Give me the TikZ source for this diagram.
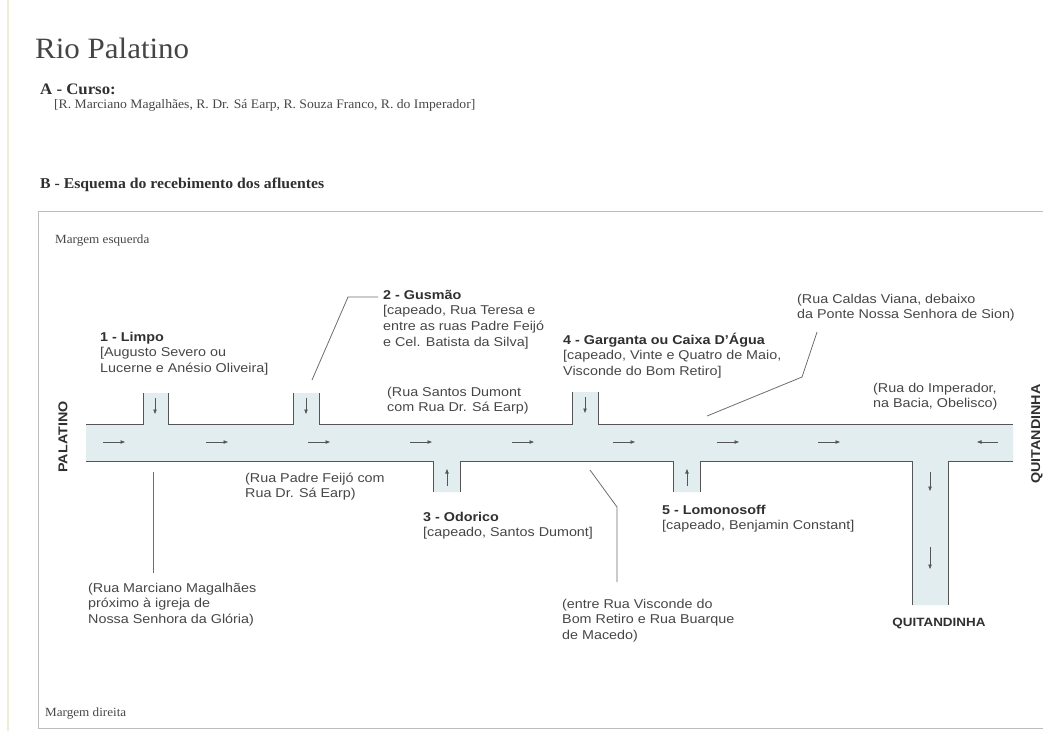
\documentclass[tikz,border=0pt]{standalone}
\usepackage{fontspec}
\setmainfont{Liberation Serif}[FakeStretch=1.05]
\setsansfont{Liberation Sans}[FakeStretch=1.12]
\usetikzlibrary{arrows.meta}
\definecolor{txtc}{HTML}{474747}
\definecolor{boldc}{HTML}{303030}
\definecolor{linec}{HTML}{555555}
\definecolor{waterc}{HTML}{E2EDF0}
\definecolor{framec}{HTML}{BDBDBD}
\definecolor{edgec}{HTML}{EFECD6}
\newcommand{\topstrut}{\rule{0pt}{12pt}}
\begin{document}
\begin{tikzpicture}[x=1pt,y=-1pt,
  lab/.style={anchor=north west, inner sep=0pt, align=left, text=txtc,
    font=\sffamily\fontsize{12.8}{15.7}\selectfont},
  flow/.style={-{Triangle[length=4.5pt,width=3.4pt]}, line width=0.7pt, draw=linec},
  bank/.style={draw=linec, line width=1pt},
  leader/.style={draw=linec!85, line width=0.8pt},
  serif/.style={anchor=base west, inner sep=0pt, text=boldc},
  vlab/.style={inner sep=0pt, text=boldc, font=\sffamily\bfseries\fontsize{12.8}{15}\selectfont}]
\useasboundingbox (0,0) rectangle (1043,731);
\fill[white] (0,0) rectangle (1043,731);
% page edge and frame
\draw[edgec, line width=1.5pt] (8,0) -- (8,731);
\draw[framec, line width=0.9pt] (1043,211) -- (38,211) -- (38,728) -- (1043,728);

% header
\node[serif, font=\rmfamily\fontsize{29.5}{32}\selectfont, text=boldc!90] (title) at (35,58) {Rio Palatino};
\node[serif, font=\rmfamily\bfseries\fontsize{16}{18}\selectfont] (curso) at (40,94) {A - Curso:};
\node[serif, font=\rmfamily\fontsize{13}{15}\selectfont, text=txtc] (cursotxt) at (54,108) {[R. Marciano Magalhães, R. Dr. Sá Earp, R. Souza Franco, R. do Imperador]};
\node[serif, font=\rmfamily\bfseries\fontsize{15}{17}\selectfont] (esquema) at (40,188) {B - Esquema do recebimento dos afluentes};
\node[serif, font=\rmfamily\fontsize{12.5}{14}\selectfont, text=txtc] (mesq) at (55,243) {Margem esquerda};
\node[serif, font=\rmfamily\fontsize{12.5}{14}\selectfont, text=txtc] (mdir) at (45,716) {Margem direita};

% river water
\fill[waterc] (86,424) -- (143,424) -- (143,393) -- (168,393) -- (168,424) -- (293,424) -- (293,393) -- (319,393) -- (319,424)
  -- (572,424) -- (572,392) -- (598,392) -- (598,424) -- (1013,424) -- (1013,461) -- (948,461) -- (948,605) -- (912,605)
  -- (912,461) -- (700,461) -- (700,492) -- (673,492) -- (673,461) -- (460,461) -- (460,492) -- (433,492) -- (433,461)
  -- (86,461) -- cycle;
% banks
\draw[bank] (86,424) -- (143,424) -- (143,393) (168,393) -- (168,424) -- (293,424) -- (293,393)
  (319,393) -- (319,424) -- (572,424) -- (572,392) (598,392) -- (598,424) -- (1013,424);
\draw[bank] (86,461) -- (433,461) -- (433,492) (460,492) -- (460,461) -- (673,461) -- (673,492)
  (700,492) -- (700,461) -- (912,461) -- (912,605) (948,605) -- (948,461) -- (1013,461);

% flow arrows
\foreach \xa in {103,206,308,410,512,613,717,818}
  \draw[flow] (\xa,442) -- (\xa+22,442);
\draw[flow] (998,442) -- (977,442);
\draw[flow] (155,398) -- (155,414);
\draw[flow] (306,398) -- (306,414);
\draw[flow] (585,397) -- (585,413);
\draw[flow] (447,486) -- (447,469);
\draw[flow] (687,486) -- (687,469);
\draw[flow] (930,472) -- (930,491);
\draw[flow] (930,547) -- (930,569);

% side labels
\node[vlab, rotate=90] (palatino) at (63,437) {PALATINO};
\node[vlab, rotate=90] (quitR) at (1037,434) {QUITANDINHA};
\node[vlab, anchor=base, font=\sffamily\bfseries\fontsize{12}{14}\selectfont] (quitB) at (939,626) {QUITANDINHA};

% tributary labels
\node[lab] (limpo) at (100,329) {\topstrut\textbf{\color{boldc}1 - Limpo}\\ {[}Augusto Severo ou\\ Lucerne e Anésio Oliveira]};
\node[lab] (gusmao) at (383,287) {\topstrut\textbf{\color{boldc}2 - Gusmão}\\ {[}capeado, Rua Teresa e\\ entre as ruas Padre Feijó\\ e Cel. Batista da Silva]};
\node[lab] (odorico) at (423,509) {\topstrut\textbf{\color{boldc}3 - Odorico}\\ {[}capeado, Santos Dumont]};
\node[lab] (garganta) at (563,332) {\topstrut\textbf{\color{boldc}4 - Garganta ou Caixa D’Água}\\ {[}capeado, Vinte e Quatro de Maio,\\ Visconde do Bom Retiro]};
\node[lab] (lomon) at (662,502) {\topstrut\textbf{\color{boldc}5 - Lomonosoff}\\ {[}capeado, Benjamin Constant]};

% place labels
\node[lab] (santos) at (387,384) {\topstrut(Rua Santos Dumont\\ com Rua Dr. Sá Earp)};
\node[lab] (feijo) at (245,470) {\topstrut(Rua Padre Feijó com\\ Rua Dr. Sá Earp)};
\node[lab] (caldas) at (797,291) {\topstrut(Rua Caldas Viana, debaixo\\ da Ponte Nossa Senhora de Sion)};
\node[lab] (imperador) at (873,380) {\topstrut(Rua do Imperador,\\ na Bacia, Obelisco)};
\node[lab] (marciano) at (88,580) {\topstrut(Rua Marciano Magalhães\\ próximo à igreja de\\ Nossa Senhora da Glória)};
\node[lab] (entre) at (562,596) {\topstrut(entre Rua Visconde do\\ Bom Retiro e Rua Buarque\\ de Macedo)};

% leader lines
\coordinate (mA) at (153,472);
\coordinate (mB) at (153,573);
\draw[leader] (mA) -- (mB);
\coordinate (gA) at (312,380);
\coordinate (gB) at (348,297);
\coordinate (gC) at (378,297);
\draw[leader] (gA) -- (gB) -- (gC);
\coordinate (eA) at (590,470);
\coordinate (eB) at (617,507);
\coordinate (eC) at (617,582);
\draw[leader] (eA) -- (eB) -- (eC);
\coordinate (cA) at (707,416);
\coordinate (cB) at (802,377);
\coordinate (cC) at (817,332);
\draw[leader] (cA) -- (cB) -- (cC);
\end{tikzpicture}
\end{document}
